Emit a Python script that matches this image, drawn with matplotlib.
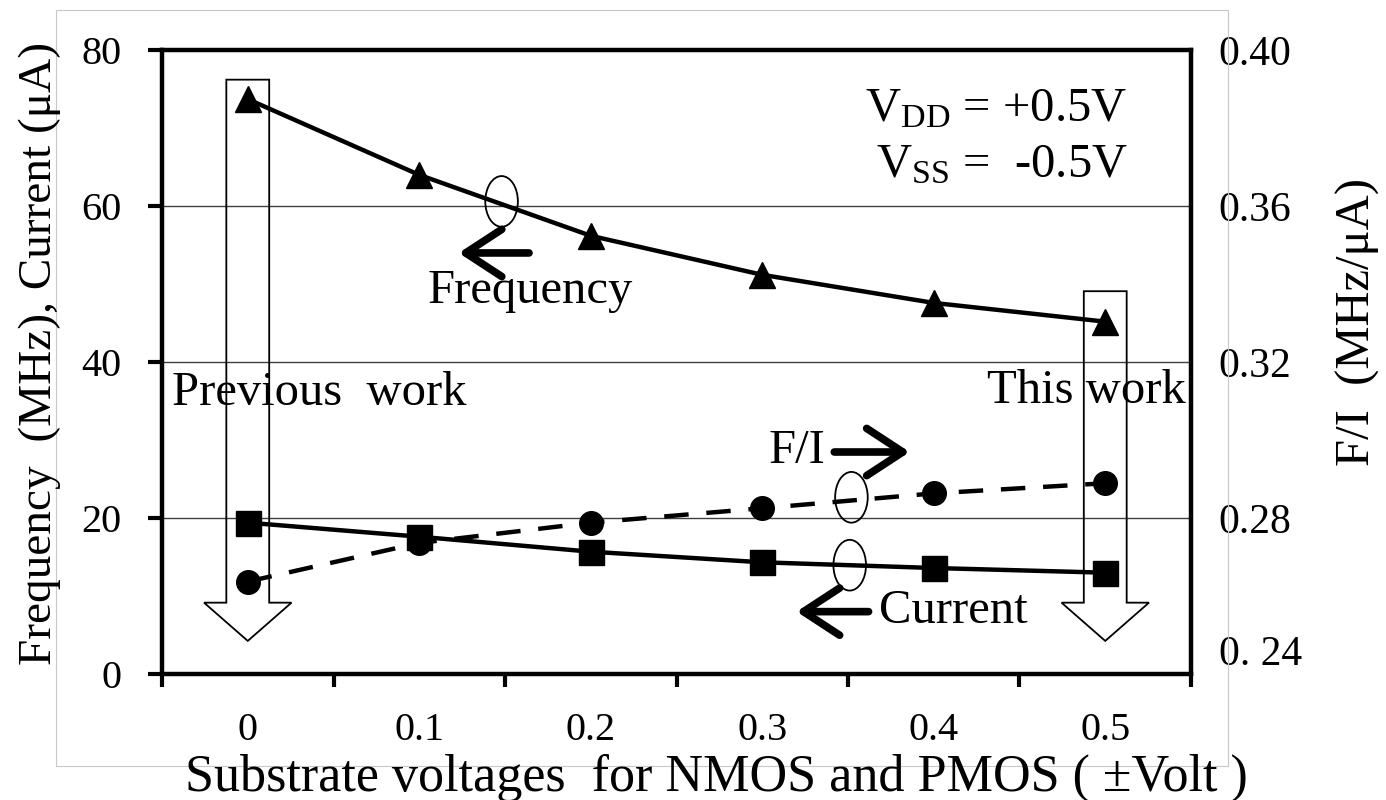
import matplotlib
matplotlib.use("Agg")
import matplotlib.pyplot as plt
from matplotlib.patches import Ellipse, FancyArrow, Rectangle

plt.rcParams['font.family'] = ['Liberation Serif', 'DejaVu Serif']
plt.rcParams['mathtext.fontset'] = 'custom'
plt.rcParams['mathtext.rm'] = 'Liberation Serif'

# data
substrate_v = ['0', '0.1', '0.2', '0.3', '0.4', '0.5']
frequency = [73.7, 64.0, 56.2, 51.2, 47.6, 45.2]      # MHz
current = [19.45, 17.65, 15.73, 14.37, 13.64, 13.04]  # uA
f_over_i = [0.2638, 0.2737, 0.2789, 0.2826, 0.2864, 0.2890]  # MHz/uA
left_ticks = [0, 20, 40, 60, 80]
right_ticks = [0.24, 0.28, 0.32, 0.36, 0.40]
right_ticklabels = ['0. 24', '0.28', '0.32', '0.36', '0.40']

x = list(range(len(substrate_v)))

fig = plt.figure(figsize=(13.86, 8), dpi=100)
ax = fig.add_axes([0.1169, 0.1569, 0.7424, 0.7806])
ax2 = ax.twinx()

# thin grey chart-area frame
fig.patches.append(Rectangle((0.0404, 0.0425), 0.8456, 0.945, transform=fig.transFigure,
                             fill=False, edgecolor='#c8c8c8', lw=0.8, zorder=0))

ax.set_xlim(-0.5, 5.5)
ax.set_ylim(0, 80)
ax2.set_ylim(0.24, 0.40)

for y in left_ticks[1:-1]:
    ax.axhline(y, color='#404040', lw=1.0, zorder=1)

# hollow block arrows
for xi, top in [(0, 76.2), (5, 49.1)]:
    ax.add_patch(FancyArrow(xi, top, 0, -(top - 4.3), width=0.25, head_width=0.51,
                            head_length=4.9, length_includes_head=True,
                            fill=False, edgecolor='black', lw=1.3, zorder=2))

ax.plot(x, frequency, color='black', lw=3.2, marker='^', ms=19, zorder=4)
ax.plot(x, current, color='black', lw=3.2, marker='s', ms=18, zorder=4)
ax2.plot(x, f_over_i, color='black', lw=3.2, ls=(0, (5.5, 4)), marker='o', ms=17, zorder=4)

# ellipses grouping the lines
for ex, ey in [(1.48, 60.6), (3.52, 22.7), (3.51, 14.0)]:
    ax.add_patch(Ellipse((ex, ey), 0.19, 6.5, fill=False, edgecolor='black', lw=1.3, zorder=5))

arrow_kw = dict(arrowstyle='->,head_length=1.3,head_width=0.85', lw=5.5, color='black',
                mutation_scale=20, shrinkA=0, shrinkB=0)
ax.annotate('', xy=(1.23, 54.0), xytext=(1.64, 54.0), arrowprops=arrow_kw)
ax.annotate('', xy=(3.86, 28.5), xytext=(3.42, 28.5), arrowprops=arrow_kw)
ax.annotate('', xy=(3.20, 8.05), xytext=(3.62, 8.05), arrowprops=arrow_kw)

txt = dict(fontsize=35, va='baseline', zorder=6)
ax.text(-0.44, 34.5, 'Previous  work', ha='left', **txt)
ax.text(5.47, 34.8, 'This work', ha='right', **txt)
ax.text(1.05, 47.6, 'Frequency', ha='left', **txt)
ax.text(3.37, 27.1, 'F/I', ha='right', **txt)
ax.text(3.68, 6.6, 'Current', ha='left', **txt)
ax.text(5.13, 70.8, r'$\mathrm{V_{DD}}$ = +0.5V', ha='right', **txt)
ax.text(5.13, 63.7, r'$\mathrm{V_{SS}}$ =  -0.5V', ha='right', **txt)

# axes / ticks
ax.set_xticks(x)
ax.set_xticklabels(substrate_v, fontsize=29)
ax.set_xticks([i - 0.5 for i in range(len(x) + 1)], minor=True)
ax.tick_params(axis='x', which='major', length=0, pad=27)
ax.tick_params(axis='x', which='minor', length=9, width=3, direction='out')
ax.set_yticks(left_ticks)
ax.tick_params(axis='y', labelsize=29, length=10, width=3, direction='out', pad=19)
for s in ax.spines.values():
    s.set_linewidth(3.2)
for s in ax2.spines.values():
    s.set_visible(False)
ax2.set_yticks(right_ticks)
ax2.set_yticklabels(right_ticklabels)
ax2.tick_params(axis='y', labelsize=30, length=0, pad=20)
ax2.get_yticklabels()[0].set_va('bottom')

fig.text(0.5166, 0.011, 'Substrate voltages  for NMOS and PMOS ( \u00b1Volt )',
         fontsize=37.5, ha='center', va='baseline')
fig.text(40 / 1386, 1 - 353 / 800, 'Frequency  (MHz), Current (\u03bcA)', fontsize=34,
         rotation=90, ha='center', va='center')
fig.text(1358 / 1386, 1 - 322 / 800, 'F/I  (MHz/\u03bcA)', fontsize=35,
         rotation=90, ha='center', va='center')

fig.savefig('out.png', dpi=100)
